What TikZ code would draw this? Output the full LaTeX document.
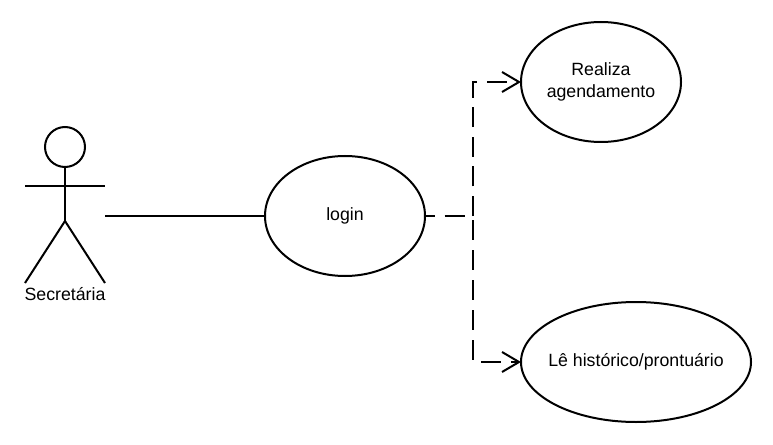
\documentclass[tikz,border=0pt]{standalone}
\usepackage{fontspec}
\setmainfont{Liberation Sans}
\usetikzlibrary{arrows.meta,shapes.geometric}
\tikzset{
	usecase/.style={draw, ellipse, inner sep=0, outer sep=0, align=center, font=\fontsize{13.3}{16}\selectfont},
	dep/.style={dash pattern=on 15pt off 7.2pt},
	open tip/.style={-{Straight Barb[length=12.75pt,width=15pt,line width=1.5pt]}}
}
\begin{document}
\begin{tikzpicture}[x=.75pt,y=-.75pt,line width=1.5pt]
\useasboundingbox (0,0) rectangle (773,445);
\node[draw, circle, inner sep=0, outer sep=0, minimum size=30pt, line width=1.5pt] (head) at (65,147) {};
\coordinate (hip) at (65,221);
\coordinate (neck) at (65,186);
\coordinate (handl) at (25,186);
\coordinate (handr) at (105,186);
\coordinate (footl) at (25,283);
\coordinate (footr) at (105,283);
\coordinate (actor) at (105,216);
\coordinate (split) at (473,216);
\node[font=\fontsize{13.3}{16}\selectfont] (secretaria) at (65,294) {Secretária};
\node[usecase, minimum width=120pt, minimum height=90pt] (login) at (345,216) {login};
\node[usecase, minimum width=120pt, minimum height=90pt] (realiza) at (601,82) {Realiza\\agendamento};
\node[usecase, inner xsep=-10pt, minimum width=172.5pt, minimum height=90pt] (historico) at (636,362) {Lê histórico/prontuário};

\draw (head.south) -- (hip);
\draw (handl) -- (handr);
\draw (footl) -- (hip) -- (footr);
\draw (actor) -- (login.west);

\draw[dep, dash phase=7.5pt] (login.east) -- (split);
\draw[dep, open tip] (split) |- (realiza.west);
\draw[dep, dash pattern=on 15pt off 7.5pt, dash phase=19.5pt, open tip] (split) |- (historico.west);
\end{tikzpicture}
\end{document}
